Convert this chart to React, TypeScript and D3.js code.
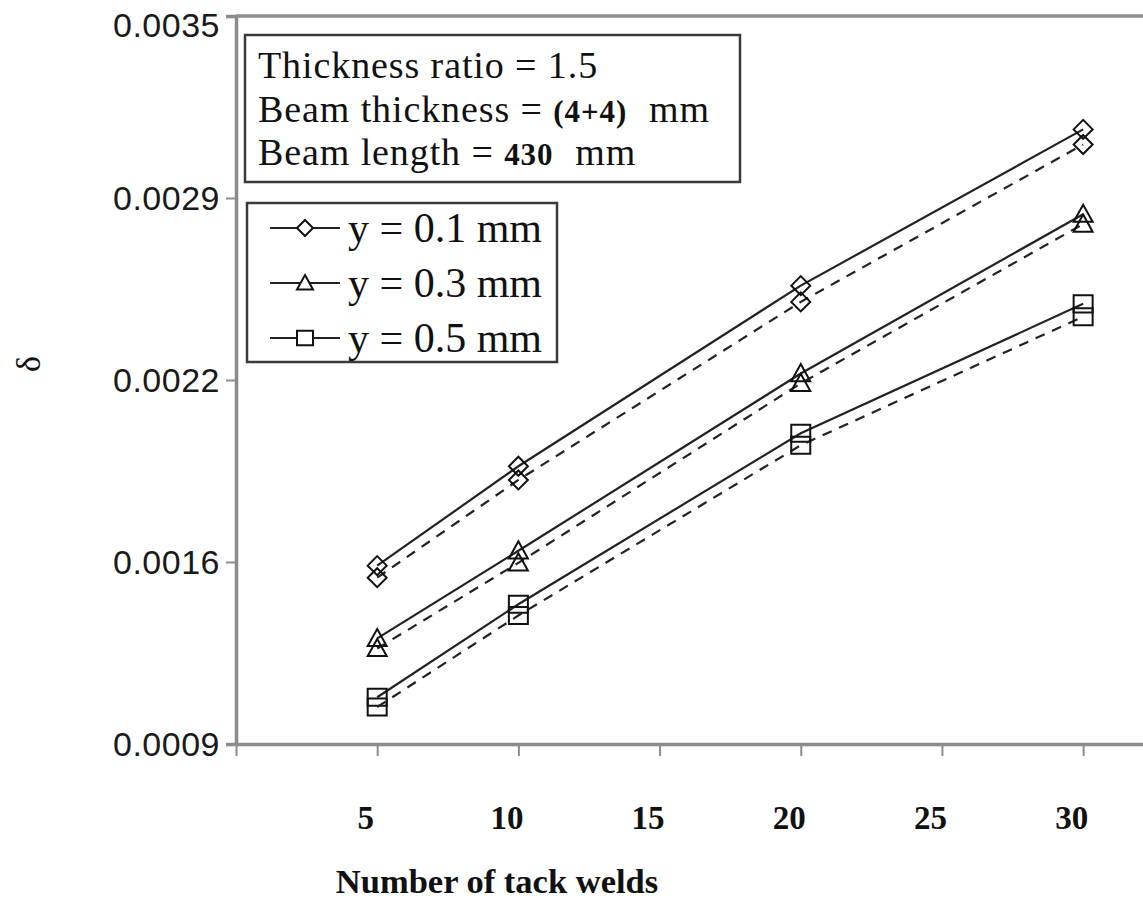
import React, { useEffect, useRef } from "react";
import * as d3 from "d3";

const W = 1143;
const H = 901;

// number of tack welds
const welds = [5, 10, 20, 30];
const xTicks = [0, 5, 10, 15, 20, 25, 30];

// y-axis: evenly spaced ticks, labels rounded to 4 decimals as in the source
const yTickValues = [0.0009, 0.00155, 0.0022, 0.00285, 0.0035];
const yTickLabels = ["0.0009", "0.0016", "0.0022", "0.0029", "0.0035"];

// deflection, solid and dashed curves
const y01Solid = [0.001537, 0.001892, 0.002537, 0.003095];
const y01Dashed = [0.001494, 0.001843, 0.002479, 0.003041];
const y03Solid = [0.001277, 0.00159, 0.002223, 0.002792];
const y03Dashed = [0.001241, 0.001547, 0.002188, 0.002757];
const y05Solid = [0.001067, 0.001399, 0.00201, 0.002472];
const y05Dashed = [0.001032, 0.001359, 0.001967, 0.002426];

const seriesNames = ["y = 0.1 mm", "y = 0.3 mm", "y = 0.5 mm"];
const seriesMarkers = ["diamond", "triangle", "square"];

const infoLines = [
  [{ t: "Thickness ratio = 1.5" }],
  [{ t: "Beam thickness = " }, { t: "(4+4)", b: true }, { t: "mm", gap: 22 }],
  [{ t: "Beam length = " }, { t: "430", b: true }, { t: "mm", gap: 22 }],
];

const serif = "'Liberation Serif', 'Times New Roman', serif";
const sans = "'Liberation Sans', Arial, sans-serif";

function markerPath(kind: string, cx: number, cy: number, s: number) {
  const h = s / 2;
  if (kind === "diamond")
    return `M${cx},${cy - h}L${cx + h},${cy}L${cx},${cy + h}L${cx - h},${cy}Z`;
  if (kind === "triangle")
    return `M${cx},${cy - h}L${cx + h},${cy + h * 0.8}L${cx - h},${cy + h * 0.8}Z`;
  return `M${cx - h},${cy - h * 0.9}h${s}v${s * 0.9}h${-s}Z`;
}

export default function App() {
  const svgRef = useRef(null);

  useEffect(() => {
    const svg = d3.select(svgRef.current);
    svg.selectAll("*").remove();

    const x = d3.scaleLinear().domain([0, 32.12]).range([236, 1143]);
    const y = d3.scaleLinear().domain([0.0009, 0.0035]).range([744, 16]);

    const axisColor = "#8c8c8c";

    // frame: top border, left axis, bottom axis
    svg
      .append("line")
      .attr("x1", x(0))
      .attr("x2", W)
      .attr("y1", y(0.0035))
      .attr("y2", y(0.0035))
      .attr("stroke", axisColor)
      .attr("stroke-width", 3.5);

    const yAxis = svg
      .append("g")
      .attr("transform", `translate(${x(0)},0)`)
      .call(
        d3
          .axisLeft(y)
          .tickValues(yTickValues)
          .tickSize(10)
          .tickFormat((_, i) => yTickLabels[i])
      );
    yAxis.select(".domain").attr("stroke", axisColor).attr("stroke-width", 3.5);
    yAxis.selectAll(".tick line").attr("stroke", axisColor).attr("stroke-width", 2);
    yAxis
      .selectAll(".tick text")
      .attr("x", -16)
      .attr("dy", "0.35em")
      .attr("fill", "#1a1a1a")
      .style("font-family", sans)
      .style("font-size", "34px")
      .style("letter-spacing", "0.5px");
    yAxis
      .selectAll(".tick")
      .filter((d) => d === 0.0035)
      .select("text")
      .attr("y", 9);

    const xAxis = svg
      .append("g")
      .attr("transform", `translate(0,${y(0.0009)})`)
      .call(
        d3
          .axisBottom(x)
          .tickValues(xTicks)
          .tickSize(12)
          .tickSizeOuter(0)
          .tickFormat((d) => (d === 0 ? "" : String(d)))
      );
    xAxis.select(".domain").attr("stroke", axisColor).attr("stroke-width", 3.5);
    xAxis.selectAll(".tick line").attr("stroke", axisColor).attr("stroke-width", 2);
    xAxis
      .selectAll(".tick text")
      .attr("x", -12)
      .attr("y", 73)
      .attr("dy", "0.35em")
      .attr("fill", "#111")
      .style("font-family", serif)
      .style("font-weight", "bold")
      .style("font-size", "33px");

    // axis titles
    svg
      .append("text")
      .attr("x", 497)
      .attr("y", 893)
      .attr("text-anchor", "middle")
      .attr("fill", "#111")
      .style("font-family", serif)
      .style("font-weight", "bold")
      .style("font-size", "34.5px")
      .text("Number of tack welds");

    svg
      .append("text")
      .attr("transform", "translate(40,364) rotate(-90)")
      .attr("text-anchor", "middle")
      .attr("fill", "#111")
      .style("font-family", serif)
      .style("font-size", "34px")
      .text("δ");

    // curves
    const groups = [
      { solid: y01Solid, dashed: y01Dashed },
      { solid: y03Solid, dashed: y03Dashed },
      { solid: y05Solid, dashed: y05Dashed },
    ];
    const line = d3
      .line<[number, number]>()
      .x((d) => x(d[0]))
      .y((d) => y(d[1]));

    groups.forEach((g, gi) => {
      [
        { vals: g.solid, dash: null },
        { vals: g.dashed, dash: "10,8" },
      ].forEach((s) => {
        const pts = welds.map((w, i) => [w, s.vals[i]] as [number, number]);
        svg
          .append("path")
          .attr("d", line(pts))
          .attr("fill", "none")
          .attr("stroke", "#222")
          .attr("stroke-width", 2.2)
          .attr("stroke-dasharray", s.dash);
        svg
          .append("g")
          .selectAll("path")
          .data(pts)
          .join("path")
          .attr("d", (d) => markerPath(seriesMarkers[gi], x(d[0]), y(d[1]), 19))
          .attr("fill", "none")
          .attr("stroke", "#111")
          .attr("stroke-width", 2);
      });
    });

    // info box
    const info = svg.append("g");
    info
      .append("rect")
      .attr("x", 245)
      .attr("y", 35)
      .attr("width", 495)
      .attr("height", 147)
      .attr("fill", "white")
      .attr("stroke", "#3a3a3a")
      .attr("stroke-width", 2.5);
    const infoBase = [78, 122, 165];
    infoLines.forEach((parts, li) => {
      const t = info
        .append("text")
        .attr("x", 258)
        .attr("y", infoBase[li])
        .attr("fill", "#111")
        .style("font-family", serif)
        .style("font-size", "38px")
        .style("letter-spacing", "0.9px");
      parts.forEach((p: any) => {
        const ts = t.append("tspan").text(p.t);
        if (p.b) ts.style("font-weight", "bold").style("font-size", "31px");
        if (p.gap) ts.attr("dx", p.gap);
      });
    });

    // series legend
    const leg = svg.append("g");
    leg
      .append("rect")
      .attr("x", 247)
      .attr("y", 203)
      .attr("width", 310)
      .attr("height", 159)
      .attr("fill", "white")
      .attr("stroke", "#3a3a3a")
      .attr("stroke-width", 2.5);
    const legY = [228, 283, 338];
    seriesNames.forEach((name, i) => {
      leg
        .append("line")
        .attr("x1", 270)
        .attr("x2", 340)
        .attr("y1", legY[i])
        .attr("y2", legY[i])
        .attr("stroke", "#222")
        .attr("stroke-width", 2);
      leg
        .append("path")
        .attr("d", markerPath(seriesMarkers[i], 305, legY[i], 16))
        .attr("fill", "white")
        .attr("stroke", "#111")
        .attr("stroke-width", 2);
      leg
        .append("text")
        .attr("x", 348)
        .attr("y", legY[i] + 14)
        .attr("fill", "#111")
        .style("font-family", serif)
        .style("font-size", "42px")
        .text(name);
    });
  }, []);

  return (
    <svg
      ref={svgRef}
      width={W}
      height={H}
      style={{ position: "absolute", left: 0, top: 0, background: "white" }}
    ></svg>
  );
}
